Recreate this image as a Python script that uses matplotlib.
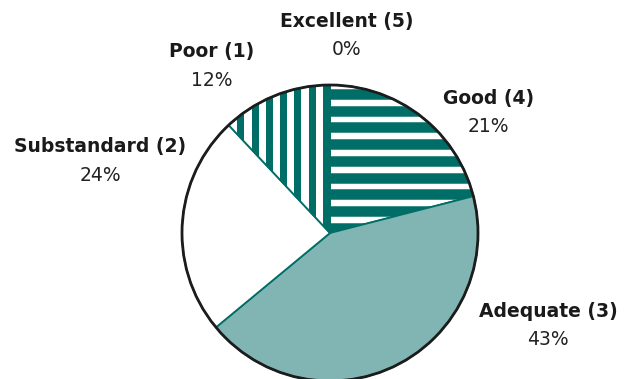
import numpy as np
import matplotlib.pyplot as plt
from matplotlib.patches import Circle
from matplotlib.collections import LineCollection

# rating distribution, clockwise from the top
labels = ['Excellent (5)', 'Good (4)', 'Adequate (3)', 'Substandard (2)', 'Poor (1)']
shares = [0, 21, 43, 24, 12]

teal = '#006E66'
light_teal = '#80B5B4'
faces = ['white', 'white', light_teal, 'white', 'white']
# stripe fill: (direction, spacing, offset, width in px) -- None means plain fill
stripes = [None, ('h', 0.113, 0.939, 10.5), None, None, ('v', 0.0966, -0.027, 7.0)]

# label centres relative to pie centre, in radius units
label_pos = [(0.115, 1.334), (1.07, 0.814), (1.473, -0.625), (-1.554, 0.486), (-0.80, 1.128)]

plt.rcParams['font.family'] = 'DejaVu Sans'

fig = plt.figure(figsize=(6.35, 3.79), dpi=100)
ax = fig.add_axes([0, 0, 1, 1])

wedges, _ = ax.pie(shares, startangle=90, counterclock=False, radius=1.0,
                   colors=faces, wedgeprops=dict(edgecolor=teal, linewidth=1.3))

# striped wedges: lines clipped to the wedge shape
for w, st in zip(wedges, stripes):
    if st is None:
        continue
    kind, step, off, px = st
    pos = off + step * np.arange(-25, 26)
    if kind == 'h':
        segs = [[(-1.2, p), (1.2, p)] for p in pos]
    else:
        segs = [[(p, -1.2), (p, 1.2)] for p in pos]
    lc = LineCollection(segs, colors=teal, linewidths=px * 72 / 100, zorder=2)
    ax.add_collection(lc)
    lc.set_clip_path(w)

ax.add_patch(Circle((0, 0), 1.0, fill=False, edgecolor='#1c1c1c', linewidth=2.0, zorder=5))

for name, val, (lx, ly) in zip(labels, shares, label_pos):
    ax.text(lx, ly + 0.097, name, ha='center', va='center', fontsize=13.5,
            fontweight='bold', color='#1a1a1a')
    ax.text(lx, ly - 0.097, f'{val}%', ha='center', va='center', fontsize=13.5,
            color='#222222')

ax.set_aspect('equal')
ax.set_xlim(-330 / 148, 305 / 148)
ax.set_ylim(-146 / 148, 233 / 148)
ax.axis('off')

fig.savefig('out.png', dpi=100)
